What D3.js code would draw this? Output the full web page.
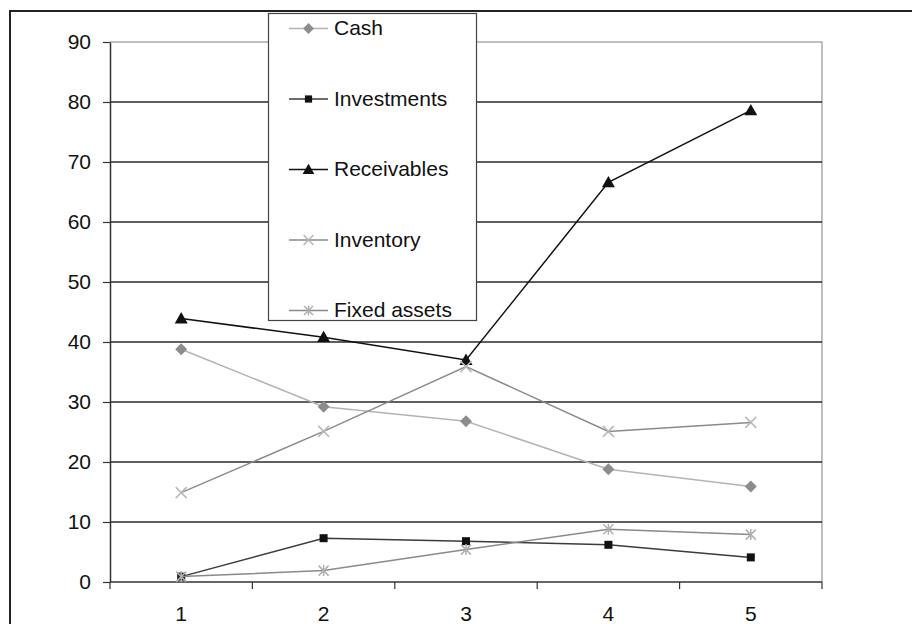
<!DOCTYPE html>
<html>
<head>
<meta charset="utf-8">
<script src="https://cdn.jsdelivr.net/npm/d3@7"></script>
<style>
  html, body { margin: 0; padding: 0; background: #fff; }
  svg { display: block; font-family: "Liberation Sans", Arial, sans-serif; }
</style>
</head>
<body>
<svg id="chart" width="912" height="624"></svg>
<script>
// Balance-sheet items over five periods
const categories = [1, 2, 3, 4, 5];
const cash        = [38.8, 29.2, 26.8, 18.8, 15.9];
const investments = [0.9, 7.3, 6.8, 6.2, 4.1];
const receivables = [43.9, 40.8, 37.0, 66.6, 78.6];
const inventory   = [14.9, 25.1, 35.9, 25.1, 26.6];
const fixedAssets = [0.9, 1.9, 5.4, 8.8, 7.9];
const yTicks = [0, 10, 20, 30, 40, 50, 60, 70, 80, 90];

const series = [
  { name: "Cash",         values: cash,        line: "#b4b4b4", marker: "diamond",  fill: "#8c8c8c" },
  { name: "Investments",  values: investments, line: "#3c3c3c", marker: "square",   fill: "#111" },
  { name: "Receivables",  values: receivables, line: "#111",    marker: "triangle", fill: "#111" },
  { name: "Inventory",    values: inventory,   line: "#8a8a8a", marker: "cross",    fill: "#b8b8b8" },
  { name: "Fixed assets", values: fixedAssets, line: "#8a8a8a", marker: "star",     fill: "#b0b0b0" }
];

const svg = d3.select("#chart");
const plot = { left: 110, right: 822, top: 42, bottom: 582 };

// Outer frame (runs off the right and bottom edges)
svg.append("path")
  .attr("d", "M10,625 L10,11 L913,11")
  .attr("fill", "none").attr("stroke", "#222").attr("stroke-width", 2);

const x = d3.scaleBand().domain(categories).range([plot.left, plot.right]);
const y = d3.scaleLinear().domain([0, 90]).range([plot.bottom, plot.top]);
const cx = d => x(d) + x.bandwidth() / 2;

// Plot-area border: light top and right edges
svg.append("path")
  .attr("d", `M${plot.left},${plot.top} L${plot.right},${plot.top} L${plot.right},${plot.bottom}`)
  .attr("fill", "none").attr("stroke", "#aaa").attr("stroke-width", 1.5);

// Horizontal gridlines
svg.append("g").selectAll("line")
  .data(yTicks.filter(t => t > 0 && t < 90))
  .join("line")
  .attr("x1", plot.left).attr("x2", plot.right)
  .attr("y1", d => y(d)).attr("y2", d => y(d))
  .attr("stroke", "#2a2a2a").attr("stroke-width", 1.3);

// Y axis
const yAxis = svg.append("g")
  .attr("transform", `translate(${plot.left},0)`)
  .call(d3.axisLeft(y).tickValues(yTicks).tickSize(7).tickPadding(12).tickSizeOuter(0));
yAxis.select(".domain").attr("stroke", "#333").attr("stroke-width", 1.5);
yAxis.selectAll(".tick line").attr("stroke", "#333").attr("stroke-width", 1.2);
yAxis.selectAll(".tick text").attr("font-size", 21).attr("fill", "#111")
  .attr("font-family", "Liberation Sans, Arial, sans-serif");

// X axis: ticks at category boundaries, labels at centres
const xAxisG = svg.append("g").attr("transform", `translate(0,${plot.bottom})`);
xAxisG.append("line").attr("x1", plot.left).attr("x2", plot.right)
  .attr("stroke", "#333").attr("stroke-width", 1.5);
const bounds = categories.map(c => x(c)).concat([plot.right]);
xAxisG.selectAll("line.tk").data(bounds).join("line").attr("class", "tk")
  .attr("x1", d => d).attr("x2", d => d).attr("y1", 0).attr("y2", 7)
  .attr("stroke", "#333").attr("stroke-width", 1.2);
xAxisG.selectAll("text").data(categories).join("text")
  .attr("x", d => cx(d)).attr("y", 39)
  .attr("text-anchor", "middle").attr("font-size", 21).attr("fill", "#111")
  .text(d => d);

// Marker shapes
function drawMarker(g, kind, fill, size) {
  const s = size;
  switch (kind) {
    case "diamond":
      g.append("path").attr("d", `M0,${-s} L${s},0 L0,${s} L${-s},0 Z`).attr("fill", fill);
      break;
    case "square":
      g.append("rect").attr("x", -s * 0.8).attr("y", -s * 0.8)
        .attr("width", s * 1.6).attr("height", s * 1.6).attr("fill", fill);
      break;
    case "triangle":
      g.append("path").attr("d", `M0,${-s} L${s},${s * 0.75} L${-s},${s * 0.75} Z`).attr("fill", fill);
      break;
    case "cross":
      g.append("path").attr("d", `M${-s},${-s} L${s},${s} M${-s},${s} L${s},${-s}`)
        .attr("stroke", fill).attr("stroke-width", 1.5).attr("fill", "none");
      break;
    case "star":
      g.append("path")
        .attr("d", `M${-s},${-s} L${s},${s} M${-s},${s} L${s},${-s} M0,${-s * 1.1} L0,${s * 1.1}`)
        .attr("stroke", fill).attr("stroke-width", 1.5).attr("fill", "none");
      break;
  }
}
const markerSize = { diamond: 6, square: 5, triangle: 6.5, cross: 5.5, star: 5 };

const line = d3.line().x((d, i) => cx(categories[i])).y(d => y(d));

// Series lines and markers
series.forEach(s => {
  svg.append("path").datum(s.values)
    .attr("d", line).attr("fill", "none")
    .attr("stroke", s.line).attr("stroke-width", 1.5);
  s.values.forEach((v, i) => {
    const g = svg.append("g").attr("transform", `translate(${cx(categories[i])},${y(v)})`);
    drawMarker(g, s.marker, s.fill, markerSize[s.marker]);
  });
});

// Legend
const legend = svg.append("g");
legend.append("rect")
  .attr("x", 268.5).attr("y", 13.5).attr("width", 208).attr("height", 307)
  .attr("fill", "#fff").attr("stroke", "#444").attr("stroke-width", 1.2);
series.forEach((s, i) => {
  const by = 35 + i * 70.5;
  const ly = by - 6.5;
  legend.append("line").attr("x1", 289).attr("x2", 328).attr("y1", ly).attr("y2", ly)
    .attr("stroke", s.line).attr("stroke-width", 1.5);
  const g = legend.append("g").attr("transform", `translate(308.5,${ly})`);
  drawMarker(g, s.marker, s.fill, markerSize[s.marker] * 0.9);
  legend.append("text").attr("x", 334).attr("y", by)
    .attr("font-size", 21).attr("fill", "#111").text(s.name);
});
</script>
</body>
</html>
